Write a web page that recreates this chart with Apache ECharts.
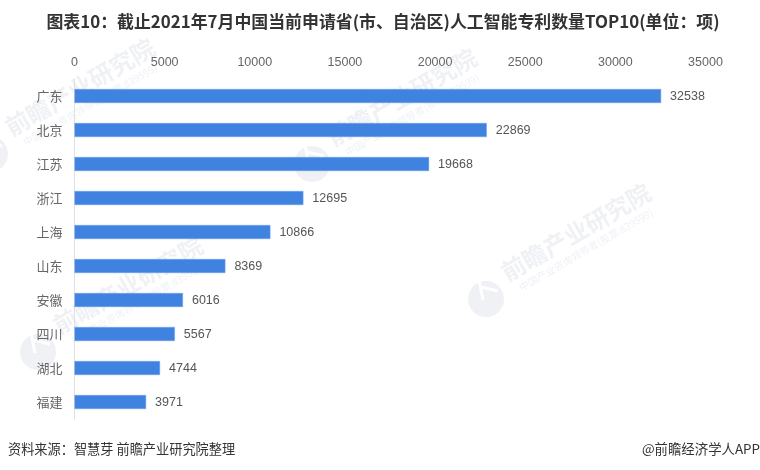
<!DOCTYPE html>
<html>
<head>
    <meta charset="utf-8">
    <title>图表10</title>
    <script src="https://cdn.jsdelivr.net/npm/echarts@6/dist/echarts.min.js"></script>
    <style>
        html, body { margin: 0; padding: 0; background: #fff; }
    </style>
</head>
<body>
    <div id="main" style="width: 760px;height:470px;"></div>
    <script type="text/javascript">
        var titleText = '图表10：截止2021年7月中国当前申请省(市、自治区)人工智能专利数量TOP10(单位：项)';
        var sourceText = '资料来源：智慧芽 前瞻产业研究院整理';
        var creditText = '@前瞻经济学人APP';
        var watermarkText = '前瞻产业研究院';
        var watermarkSub = '中国产业咨询领导者(股票:839599)';

        var provinces = ['广东', '北京', '江苏', '浙江', '上海', '山东', '安徽', '四川', '湖北', '福建'];
        var patents = [32538, 22869, 19668, 12695, 10866, 8369, 6016, 5567, 4744, 3971];

        var cjk = '"Noto Sans CJK SC", sans-serif';
        var latin = '"Liberation Sans", ' + cjk;
        var markColor = '#eff1f5';
        var myChart = echarts.init(document.getElementById('main'));

        // 水印：logo 圆 + 主文字 + 小字，x/y 为 logo 圆心
        function mark(x, y) {
            var angle = Math.PI / 6;
            function text(dx, dy, str, font) {
                return {
                    type: 'text', x: x + dx, y: y + dy, rotation: angle, z: 0, silent: true,
                    style: { text: str, fill: markColor, font: font, align: 'center', verticalAlign: 'middle' }
                };
            }
            return [
                { type: 'circle', shape: { cx: x, cy: y, r: 18 }, style: { fill: markColor }, z: 0, silent: true },
                { type: 'line', shape: { x1: x - 7, y1: y - 19, x2: x - 3, y2: y + 1 }, style: { stroke: '#fff', lineWidth: 3 }, z: 0, silent: true },
                { type: 'line', shape: { x1: x - 5, y1: y - 12, x2: x + 12, y2: y - 8 }, style: { stroke: '#fff', lineWidth: 3 }, z: 0, silent: true },
                text(90, -67, watermarkText, 'bold 24px ' + cjk),
                text(100, -49, watermarkSub, '10px ' + cjk)
            ];
        }

        var marks = [].concat(mark(-10, 154), mark(312, 164), mark(486, 299), mark(38, 352));

        myChart.setOption({
            animation: false,
            backgroundColor: '#fff',
            title: {
                text: titleText,
                left: 378,
                textAlign: 'center',
                top: 8,
                textStyle: { fontFamily: cjk, fontSize: 16.9, fontWeight: 'bold', color: '#333' }
            },
            grid: { left: 74.5, right: 54.5, top: 79, height: 340 },
            xAxis: {
                type: 'value',
                position: 'top',
                min: 0,
                max: 35000,
                interval: 5000,
                axisLine: { show: false },
                axisTick: { show: false },
                splitLine: { show: false },
                axisLabel: {
                    color: '#666', fontSize: 12.5, margin: 10, fontFamily: latin,
                    formatter: function (v) { return String(v); }
                }
            },
            yAxis: {
                type: 'category',
                inverse: true,
                data: provinces,
                axisLine: { show: true, lineStyle: { color: '#e0e0e0', width: 1 } },
                axisTick: { show: false },
                axisLabel: { color: '#666', fontSize: 13, margin: 12, fontFamily: cjk }
            },
            series: [{
                type: 'bar',
                data: patents,
                barWidth: 14,
                z: 3,
                itemStyle: { color: '#3f82e0', borderColor: '#6ea3ea', borderWidth: 0.5 },
                label: {
                    show: true,
                    position: 'right',
                    distance: 9,
                    offset: [0, 1],
                    color: '#555',
                    fontSize: 12.5,
                    fontFamily: latin
                }
            }],
            graphic: marks.concat([
                {
                    type: 'text', left: 8, top: 442, silent: true,
                    style: { text: sourceText, fill: '#333', font: '13.2px ' + cjk }
                },
                {
                    type: 'text', right: 0, top: 442, silent: true,
                    style: { text: creditText, fill: '#333', font: '13.4px ' + cjk }
                }
            ])
        });
    </script>
</body>
</html>
